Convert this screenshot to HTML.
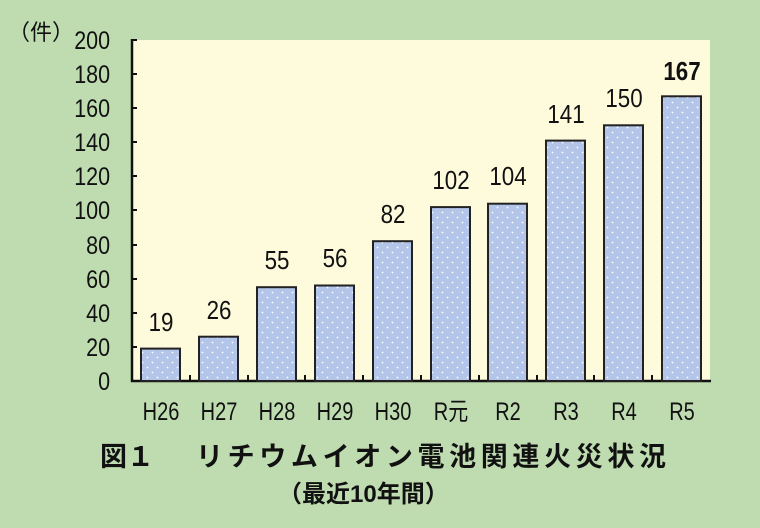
<!DOCTYPE html>
<html><head><meta charset="utf-8"><style>
body{margin:0;width:760px;height:528px;background:#bfdcb1;overflow:hidden}
svg{display:block}
text{font-family:"Liberation Sans","Noto Sans CJK JP",sans-serif;fill:#111}
</style></head><body>
<svg width="760" height="528" viewBox="0 0 760 528">
<defs>
<pattern id="dots" width="10" height="10" patternUnits="userSpaceOnUse">
<rect width="10" height="10" fill="#b3c5e8"/>
<circle cx="2.5" cy="2.5" r="0.9" fill="#fff"/>
<circle cx="7.5" cy="7.5" r="0.9" fill="#fff"/>
</pattern>
</defs>
<rect x="132" y="40" width="578" height="341" fill="#fefbdc"/>
<g font-size="25" text-anchor="end" transform="scale(0.86,1)">
<text x="128" y="49">200</text><text x="128" y="83">180</text><text x="128" y="117">160</text>
<text x="128" y="151">140</text><text x="128" y="185">120</text><text x="128" y="219">100</text>
<text x="128" y="254">80</text><text x="128" y="288">60</text><text x="128" y="322">40</text>
<text x="128" y="356">20</text><text x="128" y="390">0</text>
</g>
<text x="8" y="40" font-size="22">（件）</text>
<g stroke="#111" stroke-width="2.5">
<line x1="132" y1="39" x2="132" y2="382"/>
<line x1="131" y1="381" x2="711" y2="381"/>
</g>
<g stroke="#111" stroke-width="2">
<line x1="132" y1="40" x2="137" y2="40"/><line x1="132" y1="74" x2="137" y2="74"/>
<line x1="132" y1="108" x2="137" y2="108"/><line x1="132" y1="142" x2="137" y2="142"/>
<line x1="132" y1="176" x2="137" y2="176"/><line x1="132" y1="210" x2="137" y2="210"/>
<line x1="132" y1="245" x2="137" y2="245"/><line x1="132" y1="279" x2="137" y2="279"/>
<line x1="132" y1="313" x2="137" y2="313"/><line x1="132" y1="347" x2="137" y2="347"/>
<line x1="190" y1="381" x2="190" y2="375"/><line x1="248" y1="381" x2="248" y2="375"/>
<line x1="305" y1="381" x2="305" y2="375"/><line x1="363" y1="381" x2="363" y2="375"/>
<line x1="421" y1="381" x2="421" y2="375"/><line x1="479" y1="381" x2="479" y2="375"/>
<line x1="537" y1="381" x2="537" y2="375"/><line x1="594" y1="381" x2="594" y2="375"/>
<line x1="652" y1="381" x2="652" y2="375"/>
</g>
<g fill="url(#dots)" stroke="#222" stroke-width="2">
<rect x="141" y="348.6" width="39" height="32.4"/>
<rect x="199" y="336.7" width="39" height="44.3"/>
<rect x="257" y="287.2" width="39" height="93.8"/>
<rect x="315" y="285.5" width="39" height="95.5"/>
<rect x="373" y="241.2" width="39" height="139.8"/>
<rect x="431" y="207.1" width="39" height="173.9"/>
<rect x="488" y="203.7" width="39" height="177.3"/>
<rect x="546" y="140.6" width="39" height="240.4"/>
<rect x="604" y="125.3" width="39" height="255.7"/>
<rect x="662" y="96.3" width="39" height="284.7"/>
</g>
<g font-size="26" text-anchor="middle">
<text transform="translate(161,331) scale(0.86,1)">19</text>
<text transform="translate(219,319) scale(0.86,1)">26</text>
<text transform="translate(277,269) scale(0.86,1)">55</text>
<text transform="translate(335,267) scale(0.86,1)">56</text>
<text transform="translate(393,223) scale(0.86,1)">82</text>
<text transform="translate(451,189) scale(0.86,1)">102</text>
<text transform="translate(508,185) scale(0.86,1)">104</text>
<text transform="translate(566,123) scale(0.86,1)">141</text>
<text transform="translate(624,107) scale(0.86,1)">150</text>
<text transform="translate(682,80) scale(0.86,1)" font-weight="bold">167</text>
</g>
<g font-size="25" text-anchor="middle">
<text transform="translate(161,420) scale(0.8,1)">H26</text>
<text transform="translate(219,420) scale(0.8,1)">H27</text>
<text transform="translate(277,420) scale(0.8,1)">H28</text>
<text transform="translate(335,420) scale(0.8,1)">H29</text>
<text transform="translate(393,420) scale(0.8,1)">H30</text>
<text transform="translate(451,420) scale(0.8,1)">R元</text>
<text transform="translate(508,420) scale(0.8,1)">R2</text>
<text transform="translate(566,420) scale(0.8,1)">R3</text>
<text transform="translate(624,420) scale(0.8,1)">R4</text>
<text transform="translate(682,420) scale(0.8,1)">R5</text>
</g>
<text x="100" y="466" font-size="27" font-weight="bold">図１</text>
<text x="196" y="466" font-size="27" font-weight="bold" textLength="470">リチウムイオン電池関連火災状況</text>
<text x="278" y="502" font-size="24" font-weight="bold">（最近10年間）</text>
</svg>
</body></html>
